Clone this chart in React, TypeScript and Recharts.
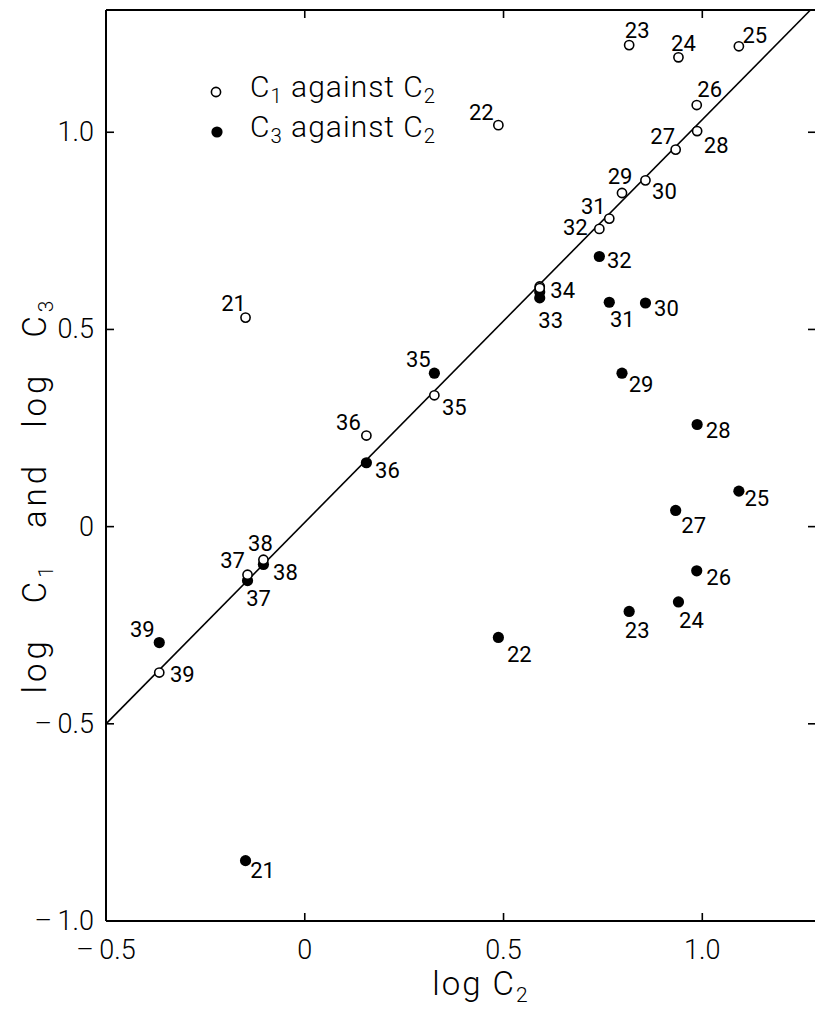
import React from "react";
import {
  ScatterChart,
  Scatter,
  XAxis,
  YAxis,
  ReferenceLine,
  Legend,
} from "recharts";

// run numbers and the three log concentrations
const runs = [21, 22, 23, 24, 25, 26, 27, 28, 29, 30, 31, 32, 33, 34, 35, 36, 37, 38, 39];
const logC2 = [-0.149, 0.487, 0.816, 0.94, 1.092, 0.986, 0.933, 0.987, 0.798, 0.857, 0.766, 0.741, 0.591, 0.591, 0.326, 0.155, -0.144, -0.104, -0.366];
const logC1 = [0.53, 1.018, 1.221, 1.19, 1.218, 1.069, 0.956, 1.003, 0.846, 0.878, 0.781, 0.755, 0.609, 0.605, 0.333, 0.231, -0.122, -0.084, -0.37];
const logC3 = [-0.847, -0.281, -0.215, -0.191, 0.09, -0.112, 0.041, 0.259, 0.389, 0.567, 0.569, 0.685, 0.58, 0.595, 0.389, 0.162, -0.137, -0.096, -0.294];

const xTicks = [-0.5, 0, 0.5, 1.0];
const yTicks = [-1.0, -0.5, 0, 0.5, 1.0];
const fitLine = [
  { x: -0.5, y: -0.5 },
  { x: 1.272, y: 1.31 },
];

// where each run number sits relative to its marker (px)
const openLabelOffset: Record<number, [number, number]> = {
  21: [-12, -14], 22: [-17, -13], 23: [8, -15], 24: [5, -14], 25: [16, -11],
  26: [13, -16], 27: [-13, -13], 28: [19, 14], 29: [-2, -16], 30: [19, 11],
  31: [-16, -12], 32: [-24, -1], 35: [20, 12], 36: [-18, -13], 37: [-15, -14],
  38: [-3, -16], 39: [23, 2],
};
const filledLabelOffset: Record<number, [number, number]> = {
  21: [17, 10], 22: [21, 17], 23: [8, 19], 24: [13, 19], 25: [18, 7],
  26: [22, 7], 27: [18, 15], 28: [21, 6], 29: [19, 11], 30: [21, 5],
  31: [13, 17], 32: [20, 4], 33: [11, 23], 34: [23, -1], 35: [-16, -14],
  36: [21, 8], 37: [11, 18], 38: [22, 8], 39: [-17, -13],
};

const c1Points = runs.map((run, i) => ({ run, x: logC2[i], y: logC1[i] }));
const c3Points = runs.map((run, i) => ({ run, x: logC2[i], y: logC3[i] }));

const FONT = "Roboto, 'DejaVu Sans', sans-serif";
const INK = "#000";

const fmt = (v: number) => {
  if (v === 0) return "0";
  if (v < 0) return "\u2013\u2009" + Math.abs(v).toFixed(1);
  return v.toFixed(1);
};

const PointLabel = ({ x, y, text }: { x: number; y: number; text: number }) => (
  <text
    x={x}
    y={y}
    textAnchor="middle"
    dominantBaseline="central"
    fontFamily={FONT}
    fontSize={22}
    fill={INK}
  >
    {text}
  </text>
);

const OpenDot = (props: any) => {
  const { cx, cy, payload } = props;
  const off = openLabelOffset[payload.run];
  return (
    <g>
      <circle cx={cx} cy={cy} r={4.6} fill="#fff" stroke={INK} strokeWidth={1.6} />
      {off && <PointLabel x={cx + off[0]} y={cy + off[1]} text={payload.run} />}
    </g>
  );
};

const FilledDot = (props: any) => {
  const { cx, cy, payload } = props;
  const off = filledLabelOffset[payload.run];
  return (
    <g>
      <circle cx={cx} cy={cy} r={5.6} fill={INK} />
      {off && <PointLabel x={cx + off[0]} y={cy + off[1]} text={payload.run} />}
    </g>
  );
};

const tickText = {
  fontFamily: FONT,
  fontWeight: 300,
  fontSize: 27,
  fill: INK,
};

const BottomTick = (props: any) => {
  const { x, y, payload } = props;
  return (
    <g>
      <line x1={x} x2={x} y1={y} y2={y - 8} stroke={INK} strokeWidth={1.6} />
      <text x={x} y={y + 29} textAnchor="middle" dominantBaseline="central" {...tickText}>
        {fmt(payload.value)}
      </text>
    </g>
  );
};

const TopTick = (props: any) => {
  const { x, y } = props;
  return <line x1={x} x2={x} y1={y} y2={y + 8} stroke={INK} strokeWidth={1.6} />;
};

const LeftTick = (props: any) => {
  const { x, y, payload } = props;
  return (
    <g>
      <line x1={x} x2={x + 8} y1={y} y2={y} stroke={INK} strokeWidth={1.6} />
      <text x={x - 12} y={y} textAnchor="end" dominantBaseline="central" {...tickText}>
        {fmt(payload.value)}
      </text>
    </g>
  );
};

const RightTick = (props: any) => {
  const { x, y } = props;
  return <line x1={x} x2={x - 8} y1={y} y2={y} stroke={INK} strokeWidth={1.6} />;
};

const XTitle = () => (
  <text
    x={481}
    y={995}
    textAnchor="middle"
    fontFamily={FONT}
    fontWeight={300}
    fontSize={33}
    fill={INK}
    style={{ letterSpacing: "2px" }}
  >
    log C
    <tspan fontSize={21} dy={7}>2</tspan>
  </text>
);

const YTitle = () => (
  <text
    x={46}
    y={495}
    transform="rotate(-90, 46, 495)"
    textAnchor="middle"
    fontFamily={FONT}
    fontWeight={300}
    fontSize={33}
    fill={INK}
    style={{ letterSpacing: "4px", wordSpacing: "22px" }}
  >
    log C
    <tspan fontSize={21} dy={7}>1</tspan>
    <tspan dy={-7}> and log C</tspan>
    <tspan fontSize={21} dy={7}>3</tspan>
  </text>
);

const subStyle: React.CSSProperties = { fontSize: "0.68em", verticalAlign: "-0.3em" };

const LegendBox = () => (
  <div
    style={{
      fontFamily: FONT,
      fontWeight: 300,
      fontSize: 30,
      letterSpacing: "1px",
      color: INK,
      lineHeight: "40px",
      whiteSpace: "nowrap",
    }}
  >
    <div style={{ display: "flex", alignItems: "center", height: 40 }}>
      <svg width={50} height={40}>
        <circle cx={16} cy={20} r={4.6} fill="#fff" stroke={INK} strokeWidth={1.6} />
      </svg>
      <span>
        C<span style={subStyle}>1</span> against C<span style={subStyle}>2</span>
      </span>
    </div>
    <div style={{ display: "flex", alignItems: "center", height: 40 }}>
      <svg width={50} height={40}>
        <circle cx={17} cy={20} r={5.6} fill={INK} />
      </svg>
      <span>
        C<span style={subStyle}>3</span> against C<span style={subStyle}>2</span>
      </span>
    </div>
  </div>
);

export default function App() {
  return (
    <div
      style={{
        position: "fixed",
        left: 0,
        top: 0,
        width: 815,
        height: 1009,
        overflow: "hidden",
        background: "#fff",
      }}
    >
      <ScatterChart
        width={830}
        height={1009}
        margin={{ top: 0, right: 4, bottom: 0, left: 6 }}
      >
        <XAxis
          xAxisId="bottom"
          type="number"
          dataKey="x"
          orientation="bottom"
          domain={[-0.5, 1.286]}
          allowDataOverflow
          ticks={xTicks}
          height={88}
          tickLine={false}
          tickSize={0}
          tickMargin={0}
          tick={BottomTick}
          axisLine={{ stroke: INK, strokeWidth: 2 }}
          label={<XTitle />}
        />
        <XAxis
          xAxisId="top"
          type="number"
          dataKey="x"
          orientation="top"
          domain={[-0.5, 1.286]}
          allowDataOverflow
          ticks={xTicks}
          height={10}
          tickLine={false}
          tickSize={0}
          tickMargin={0}
          tick={TopTick}
          axisLine={{ stroke: INK, strokeWidth: 2 }}
        />
        <YAxis
          yAxisId="left"
          type="number"
          dataKey="y"
          orientation="left"
          domain={[-1.0, 1.31]}
          allowDataOverflow
          ticks={yTicks}
          width={100}
          tickLine={false}
          tickSize={0}
          tickMargin={0}
          tick={LeftTick}
          axisLine={{ stroke: INK, strokeWidth: 2 }}
          label={<YTitle />}
        />
        <YAxis
          yAxisId="right"
          type="number"
          dataKey="y"
          orientation="right"
          domain={[-1.0, 1.31]}
          allowDataOverflow
          ticks={yTicks}
          width={10}
          tickLine={false}
          tickSize={0}
          tickMargin={0}
          tick={RightTick}
          axisLine={{ stroke: INK, strokeWidth: 2 }}
        />
        <ReferenceLine
          xAxisId="bottom"
          yAxisId="left"
          segment={fitLine}
          stroke={INK}
          strokeWidth={1.6}
          ifOverflow="visible"
        />
        <Scatter
          name="C3 against C2"
          data={c3Points}
          xAxisId="bottom"
          yAxisId="left"
          shape={FilledDot}
          isAnimationActive={false}
        />
        <Scatter
          name="C1 against C2"
          data={c1Points}
          xAxisId="bottom"
          yAxisId="left"
          shape={OpenDot}
          isAnimationActive={false}
        />
        <Legend
          layout="vertical"
          align="center"
          verticalAlign="middle"
          content={() => <LegendBox />}
          wrapperStyle={{ position: "absolute", left: 200, top: 72, width: 320, height: 80 }}
        />
      </ScatterChart>
    </div>
  );
}
